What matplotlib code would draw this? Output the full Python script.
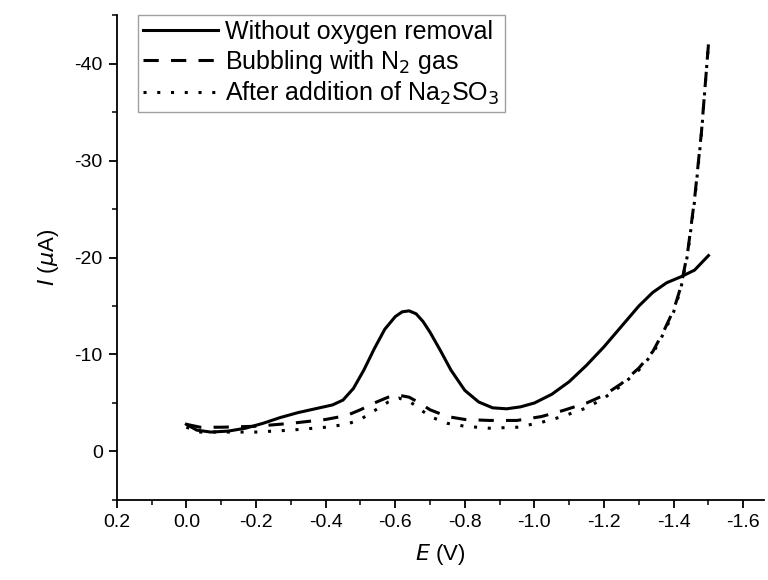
import matplotlib.pyplot as plt
from matplotlib.ticker import MultipleLocator

plt.rcParams['font.family'] = ['Liberation Sans', 'DejaVu Sans']
plt.rcParams['axes.unicode_minus'] = False

# potential (V) and current (uA); cathodic currents are negative
e_solid = [0.0, -0.03, -0.07, -0.12, -0.17, -0.22, -0.27, -0.32, -0.37, -0.42, -0.45,
           -0.48, -0.51, -0.54, -0.57, -0.6, -0.62, -0.64, -0.66, -0.68, -0.7, -0.73,
           -0.76, -0.8, -0.84, -0.88, -0.92, -0.96, -1.0, -1.05, -1.1, -1.15, -1.2,
           -1.25, -1.3, -1.34, -1.38, -1.42, -1.46, -1.5]
i_solid = [-2.8, -2.2, -2.0, -2.1, -2.4, -2.9, -3.5, -4.0, -4.4, -4.8, -5.3,
           -6.5, -8.4, -10.6, -12.6, -13.9, -14.4, -14.5, -14.2, -13.4, -12.3, -10.4,
           -8.4, -6.3, -5.1, -4.5, -4.4, -4.6, -5.0, -5.9, -7.2, -8.9, -10.8,
           -12.9, -15.0, -16.4, -17.4, -18.0, -18.7, -20.2]

e_dash = [0.0, -0.04, -0.1, -0.2, -0.3, -0.4, -0.46, -0.5, -0.54, -0.58, -0.61, -0.64,
          -0.67, -0.7, -0.75, -0.8, -0.87, -0.95, -1.02, -1.08, -1.15, -1.2, -1.25,
          -1.3, -1.34, -1.37, -1.4, -1.42, -1.44, -1.46, -1.48, -1.49, -1.5]
i_dash = [-2.8, -2.5, -2.5, -2.6, -2.9, -3.3, -3.7, -4.3, -5.0, -5.6, -5.8, -5.6,
          -5.0, -4.3, -3.6, -3.3, -3.2, -3.2, -3.6, -4.2, -5.0, -5.8, -7.0,
          -8.6, -10.3, -12.3, -14.6, -16.9, -20.5, -26.0, -33.0, -37.5, -42.0]

e_dot = [0.0, -0.04, -0.1, -0.2, -0.3, -0.4, -0.46, -0.5, -0.54, -0.58, -0.61, -0.64,
         -0.67, -0.7, -0.75, -0.8, -0.87, -0.95, -1.02, -1.08, -1.15, -1.2, -1.25,
         -1.3, -1.34, -1.37, -1.4, -1.42, -1.44, -1.46, -1.48, -1.49, -1.5]
i_dot = [-2.5, -2.0, -2.0, -2.0, -2.2, -2.5, -2.8, -3.3, -4.2, -5.1, -5.5, -5.2,
         -4.4, -3.6, -2.9, -2.6, -2.4, -2.5, -3.0, -3.6, -4.5, -5.5, -6.8,
         -8.4, -10.1, -12.1, -14.4, -16.7, -20.3, -25.8, -32.8, -37.5, -42.0]

fig = plt.figure(figsize=(7.68, 5.8), dpi=100)
ax = fig.add_axes([0.152, 0.138, 0.843, 0.836])

ax.plot(e_solid, i_solid, color='black', lw=2.2, ls='-', label='Without oxygen removal')
ax.plot(e_dash, i_dash, color='black', lw=2.2, ls=(0, (5, 4)), label='Bubbling with N$_2$ gas')
ax.plot(e_dot, i_dot, color='black', lw=2.2, ls=(0, (1, 3.5)), label='After addition of Na$_2$SO$_3$')

ax.set_xlim(0.2, -1.66)
ax.set_ylim(5, -45)
ax.xaxis.set_major_locator(MultipleLocator(0.2))
ax.xaxis.set_minor_locator(MultipleLocator(0.1))
ax.yaxis.set_major_locator(MultipleLocator(10))
ax.yaxis.set_minor_locator(MultipleLocator(5))
ax.xaxis.set_major_formatter(plt.FuncFormatter(lambda v, p: f'{v:.1f}'))
ax.yaxis.set_major_formatter(plt.FuncFormatter(lambda v, p: f'{v:.0f}'))

for s in ['top', 'right']:
    ax.spines[s].set_visible(False)
for s in ['left', 'bottom']:
    ax.spines[s].set_linewidth(1.3)
ax.tick_params(which='major', length=6, width=1.3, labelsize=14, pad=4)
ax.tick_params(which='minor', length=3.5, width=1.1)

ax.set_xlabel('$\\mathit{E}$ (V)', fontsize=16, labelpad=8)
ax.set_ylabel('$\\mathit{I}$ ($\\mu$A)', fontsize=16, labelpad=10)

leg = ax.legend(loc='upper left', bbox_to_anchor=(0.025, 1.01), fontsize=18,
                frameon=True, fancybox=False, edgecolor='#888888', handlelength=3.0,
                handletextpad=0.3, borderpad=0.2, labelspacing=0.15, borderaxespad=0.2)
leg.get_frame().set_linewidth(1.0)

fig.savefig('out.png', dpi=100)
